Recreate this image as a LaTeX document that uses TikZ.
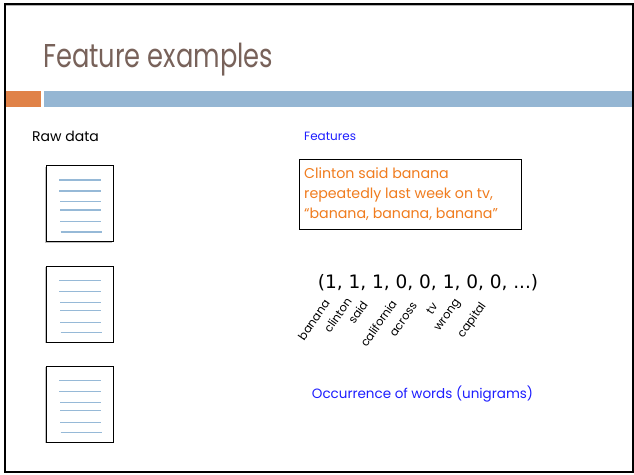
\documentclass[tikz,border=0pt]{standalone}
\usepackage{fontspec}
\setmainfont{Poppins}
\newfontfamily\ftr{Poppins}
\newfontfamily\ttl[FakeStretch=0.78]{Poppins}
\newfontfamily\dvs{DejaVu Sans}
\definecolor{titlec}{RGB}{120,98,90}
\definecolor{orbar}{RGB}{224,130,72}
\definecolor{blbar}{RGB}{149,182,211}
\definecolor{doclines}{RGB}{150,185,215}
\definecolor{ortext}{RGB}{240,124,30}
\definecolor{bltext}{RGB}{30,30,255}
\tikzset{
  docbox/.style={draw=black, line width=0.8pt, fill=white, minimum width=67pt, minimum height=76pt, inner sep=0pt},
  dline/.style={draw=doclines, line width=1.1pt},
  wlabel/.style={font=\ftr\fontsize{11.5}{13}\selectfont, rotate=55, anchor=east, inner sep=0pt},
  orline/.style={anchor=base west, inner sep=0pt, text=ortext, font=\ftr\fontsize{14.2}{16}\selectfont},
}
\begin{document}
\begin{tikzpicture}[x=1pt,y=-1pt]
\useasboundingbox (0,0) rectangle (634,474);
\fill[white] (0,0) rectangle (634,474);
\draw[black, line width=2pt] (4.5,3.5) rectangle (632.5,471.5);
\draw[gray!60, line width=0.8pt] (5.5,5.2) -- (631.5,5.2);
% bars
\fill[orbar] (5.5,91) rectangle (41,107);
\fill[blbar] (44,91) rectangle (631.5,107);
% title
\node[anchor=base west, inner sep=0pt, text=titlec, font=\ttl\fontsize{33}{36}\selectfont] (title) at (43,67) {Feature examples};
% headings
\node[anchor=base west, inner sep=0pt, font=\ftr\fontsize{14}{16}\selectfont] (raw) at (32,141) {Raw data};
\node[anchor=base west, inner sep=0pt, text=bltext, font=\ftr\fontsize{12}{14}\selectfont] (feat) at (304,140) {Features};
% documents
\foreach \n/\t in {d1/165, d2/265.7, d3/365.7} {
  \fill[gray!50] (44.8, \t+1.5) rectangle (111.5, \t+77.5);
  \node[docbox, anchor=north west] (\n) at (46,\t) {};
  \foreach \dy/\xa/\xb in {15/59/100.5, 26/59/100.5, 36.7/60/101, 45/60/101, 56.7/60/101, 67/60.5/102} {
    \draw[dline] (\xa,\t+\dy) -- (\xb,\t+\dy);
  }
}
% text box
\node[draw=black, line width=0.8pt, anchor=north west, minimum width=222pt, minimum height=70pt, inner sep=0pt] (tbox) at (299.3,159) {};
\node[orline] (tl1) at (304,178) {Clinton said banana};
\node[orline] (tl2) at (304,198) {repeatedly last week on tv,};
\node[orline] (tl3) at (304,218) {“banana, banana, banana”};
% vector
\node[anchor=base west, inner sep=0pt, font=\dvs\fontsize{18.5}{20}\selectfont] (vec) at (317.7,288) {(1, 1, 1, 0, 0, 1, 0, 0, ...)};
% labels
\node[wlabel] (l1) at (327,301) {banana};
\node[wlabel] (l2) at (349,299) {clinton};
\node[wlabel] (l3) at (365,302) {said};
\node[wlabel] (l4) at (394,301) {california};
\node[wlabel] (l5) at (415,304) {across};
\node[wlabel] (l6) at (435,304) {tv};
\node[wlabel] (l7) at (459,301) {wrong};
\node[wlabel] (l8) at (484,304) {capital};
% caption
\node[anchor=base west, inner sep=0pt, text=bltext, font=\ftr\fontsize{13.5}{16}\selectfont] (occ) at (311.7,398) {Occurrence of words (unigrams)};
\end{tikzpicture}
\end{document}
